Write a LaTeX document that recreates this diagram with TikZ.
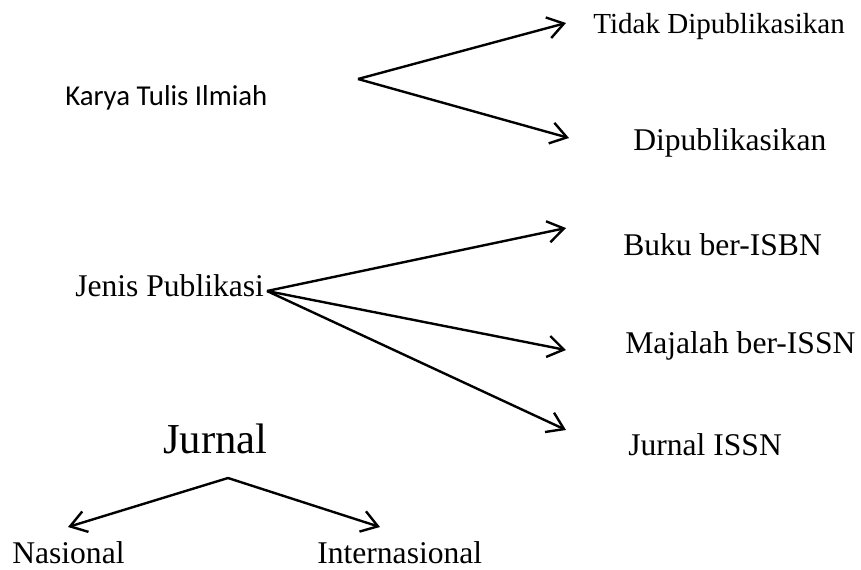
\documentclass[tikz,border=0pt]{standalone}
\usepackage{fontspec}
\setmainfont{Liberation Serif}
\newfontfamily\calibrifont{Carlito}
\usetikzlibrary{arrows.meta}

\begin{document}
\begin{tikzpicture}[x=0.75pt, y=-0.75pt,
    label/.style={inner sep=0pt, anchor=base west, font=\fontsize{23.7}{28}\selectfont},
    arrow/.style={-{Straight Barb[length=12pt, width=16pt]}, line width=1.8pt}
]
    \useasboundingbox (0,0) rectangle (861,569);

    % karya tulis ilmiah
    \node[label, font=\calibrifont\fontsize{21.6}{26}\selectfont] (karya) at (65,105) {Karya Tulis Ilmiah};
    \node[label, font=\fontsize{21.8}{26}\selectfont] (tidak) at (593,33) {Tidak Dipublikasikan};
    \node[label] (dipub) at (633,150) {Dipublikasikan};
    \coordinate (karyafork) at (358,79);

    \draw[arrow] (karyafork) -- ([shift={(-27,-10)}]tidak.base west);
    \draw[arrow] (karyafork) -- ([shift={(-64,-12)}]dipub.base west);

    % jenis publikasi
    \node[label] (jenis) at (75,296) {Jenis Publikasi};
    \node[label] (buku) at (623,255) {Buku ber-ISBN};
    \node[label] (majalah) at (625,353) {Majalah ber-ISSN};
    \node[label] (issn) at (628,455) {Jurnal ISSN};
    \coordinate (jenisfork) at (267,291);

    \draw[arrow] (jenisfork) -- ([shift={(-57,-27)}]buku.base west);
    \draw[arrow] (jenisfork) -- ([shift={(-59,-3)}]majalah.base west);
    \draw[arrow] (jenisfork) -- ([shift={(-62,-25)}]issn.base west);

    % jurnal
    \node[label, font=\fontsize{32}{38}\selectfont] (jurnal) at (163,453) {Jurnal};
    \node[label] (nasional) at (12,563) {Nasional};
    \node[label] (inter) at (317,563) {Internasional};
    \coordinate (jurnalfork) at (228,478);

    \draw[arrow] (jurnalfork) -- ([shift={(56,-36)}]nasional.base west);
    \draw[arrow] (jurnalfork) -- ([shift={(63,-36)}]inter.base west);
\end{tikzpicture}
\end{document}
